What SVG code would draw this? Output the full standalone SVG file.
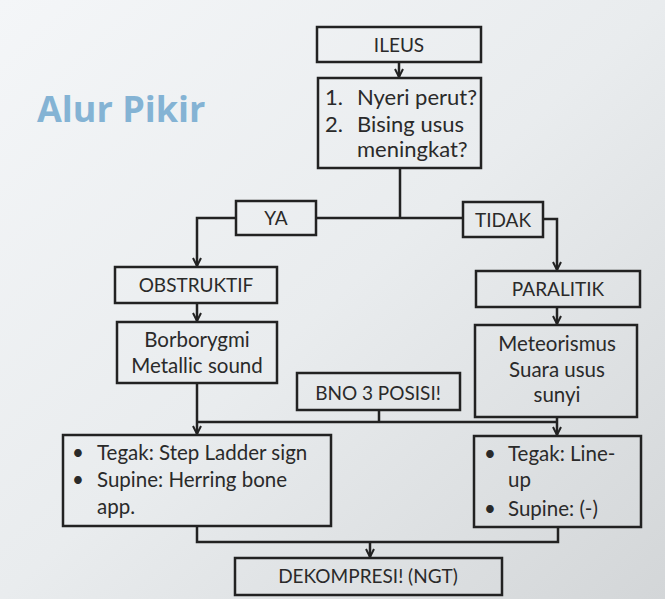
<svg xmlns="http://www.w3.org/2000/svg" width="665" height="599" viewBox="0 0 665 599">
  <defs>
    <linearGradient id="bg" x1="0" y1="0" x2="1" y2="1">
      <stop offset="0" stop-color="#f4f6f8"/>
      <stop offset="0.5" stop-color="#e9ecee"/>
      <stop offset="1" stop-color="#d3d6d8"/>
    </linearGradient>
    <marker id="arr" viewBox="0 0 10 10" refX="9" refY="5" markerWidth="10" markerHeight="10" markerUnits="userSpaceOnUse" orient="auto">
      <path d="M1,1 L9,5 L1,9" fill="none" stroke="#222" stroke-width="2"/>
    </marker>
    <style>
      .box { fill: none; stroke: #222; stroke-width: 2.5; }
      .t { font-family: Lato, "Open Sans", sans-serif; font-size: 20.5px; fill: #2a2a2a; }
      .cap { font-size: 19px; }
      .q { font-size: 22px; }
      .c { text-anchor: middle; }
      .ln { fill: none; stroke: #222; stroke-width: 2.5; }
      .title { font-family: "Open Sans", Lato, sans-serif; font-weight: bold; font-size: 36px; fill: #84b3d4; }
    </style>
  </defs>
  <rect width="665" height="599" fill="url(#bg)"/>

  <text class="title" x="37" y="122">Alur Pikir</text>

  <g id="connectors">
    <path class="ln" d="M399,62 V77" marker-end="url(#arr)"/>
    <path class="ln" d="M400,168 V218 M316,218 H463"/>
    <path class="ln" d="M236,218 H197 V266" marker-end="url(#arr)"/>
    <path class="ln" d="M543,219 H557 V270" marker-end="url(#arr)"/>
    <path class="ln" d="M197,303 V321" marker-end="url(#arr)"/>
    <path class="ln" d="M557,307 V324" marker-end="url(#arr)"/>
    <path class="ln" d="M197,383 V434" marker-end="url(#arr)"/>
    <path class="ln" d="M557,417 V435" marker-end="url(#arr)"/>
    <path class="ln" d="M379,410 V422 M197,422 H557"/>
    <path class="ln" d="M197,526 V542 H558 V527"/>
    <path class="ln" d="M370,542 V557" marker-end="url(#arr)"/>
  </g>

  <g id="ileus">
    <rect class="box" x="317" y="27" width="164" height="35"/>
    <text class="t cap c" x="399" y="52">ILEUS</text>
  </g>

  <g id="question">
    <rect class="box" x="318" y="78" width="163" height="90"/>
    <text class="t q" x="325" y="105">1.</text>
    <text class="t q" x="357" y="105">Nyeri perut?</text>
    <text class="t q" x="325" y="132">2.</text>
    <text class="t q" x="357" y="132">Bising usus</text>
    <text class="t q" x="357" y="157">meningkat?</text>
  </g>

  <g id="ya">
    <rect class="box" x="236" y="201" width="80" height="34"/>
    <text class="t cap c" x="276" y="225">YA</text>
  </g>

  <g id="tidak">
    <rect class="box" x="463" y="202" width="80" height="35"/>
    <text class="t cap c" x="503" y="227">TIDAK</text>
  </g>

  <g id="obstruktif">
    <rect class="box" x="115" y="267" width="162" height="36"/>
    <text class="t cap c" x="196" y="292">OBSTRUKTIF</text>
  </g>

  <g id="paralitik">
    <rect class="box" x="476" y="271" width="164" height="36"/>
    <text class="t cap c" x="558" y="296">PARALITIK</text>
  </g>

  <g id="borborygmi">
    <rect class="box" x="117" y="322" width="160" height="61"/>
    <text class="t c" x="197" y="347">Borborygmi</text>
    <text class="t c" x="197" y="373">Metallic sound</text>
  </g>

  <g id="meteorismus">
    <rect class="box" x="475" y="325" width="162" height="92"/>
    <text class="t c" x="557" y="351">Meteorismus</text>
    <text class="t c" x="557" y="377">Suara usus</text>
    <text class="t c" x="557" y="402">sunyi</text>
  </g>

  <g id="bno">
    <rect class="box" x="297" y="373" width="163" height="37"/>
    <text class="t cap c" x="378" y="400">BNO 3 POSISI!</text>
  </g>

  <g id="obstruktif-xray">
    <rect class="box" x="63" y="435" width="268" height="91"/>
    <text class="t" x="72" y="460">•</text>
    <text class="t" x="97" y="460">Tegak: Step Ladder sign</text>
    <text class="t" x="72" y="487">•</text>
    <text class="t" x="97" y="487">Supine: Herring bone</text>
    <text class="t" x="97" y="514">app.</text>
  </g>

  <g id="paralitik-xray">
    <rect class="box" x="474" y="436" width="167" height="91"/>
    <text class="t" x="484" y="461">•</text>
    <text class="t" x="508" y="461">Tegak: Line-</text>
    <text class="t" x="508" y="487">up</text>
    <text class="t" x="484" y="516">•</text>
    <text class="t" x="508" y="516">Supine: (-)</text>
  </g>

  <g id="dekompresi">
    <rect class="box" x="235" y="558" width="267" height="37"/>
    <text class="t cap c" x="368" y="583">DEKOMPRESI! (NGT)</text>
  </g>
</svg>
